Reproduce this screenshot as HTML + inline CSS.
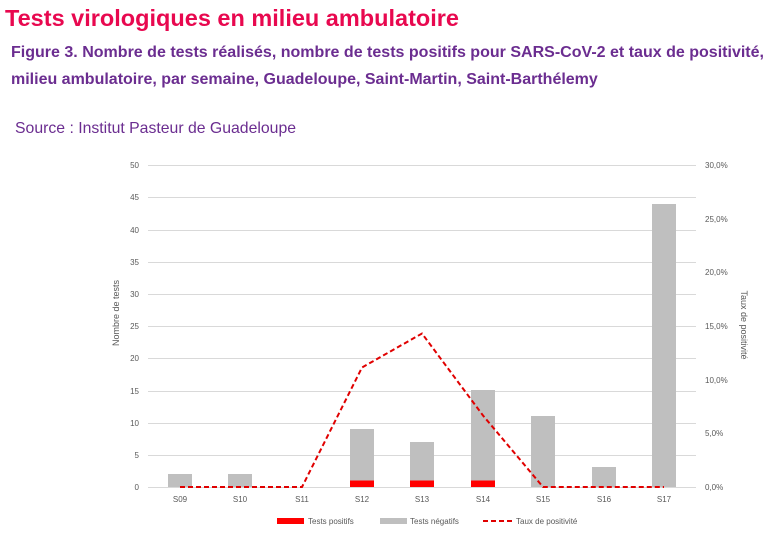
<!DOCTYPE html>
<html><head><meta charset="utf-8"><style>
body{margin:0;background:#fff;width:768px;height:541px;overflow:hidden;font-family:"Liberation Sans",sans-serif;}
</style></head><body>
<svg width="768" height="541" xmlns="http://www.w3.org/2000/svg" font-family="Liberation Sans, sans-serif">
<text x="5" y="26" font-size="23.5" font-weight="bold" fill="#e8084f">Tests virologiques en milieu ambulatoire</text>
<text x="11" y="57" font-size="16" font-weight="bold" fill="#6b2d90" textLength="753" lengthAdjust="spacingAndGlyphs">Figure 3. Nombre de tests réalisés, nombre de tests positifs pour SARS-CoV-2 et taux de positivité,</text>
<text x="11" y="84" font-size="16" font-weight="bold" fill="#6b2d90">milieu ambulatoire, par semaine, Guadeloupe, Saint-Martin, Saint-Barthélemy</text>
<text x="15" y="133" font-size="15.8" fill="#6b2d90">Source : Institut Pasteur de Guadeloupe</text>
<g stroke="#d9d9d9" stroke-width="1">
<line x1="148" x2="696" y1="165.5" y2="165.5"/><line x1="148" x2="696" y1="197.5" y2="197.5"/>
<line x1="148" x2="696" y1="230.5" y2="230.5"/><line x1="148" x2="696" y1="262.5" y2="262.5"/>
<line x1="148" x2="696" y1="294.5" y2="294.5"/><line x1="148" x2="696" y1="326.5" y2="326.5"/>
<line x1="148" x2="696" y1="358.5" y2="358.5"/><line x1="148" x2="696" y1="391.5" y2="391.5"/>
<line x1="148" x2="696" y1="423.5" y2="423.5"/><line x1="148" x2="696" y1="455.5" y2="455.5"/>
<line x1="148" x2="696" y1="487.5" y2="487.5"/>
</g>
<g font-size="8" fill="#595959" text-anchor="end">
<text x="139" y="168">50</text><text x="139" y="200">45</text><text x="139" y="233">40</text>
<text x="139" y="265">35</text><text x="139" y="297">30</text><text x="139" y="329">25</text>
<text x="139" y="361">20</text><text x="139" y="394">15</text><text x="139" y="426">10</text>
<text x="139" y="458">5</text><text x="139" y="490">0</text>
</g>
<g font-size="8" fill="#595959">
<text x="705" y="168">30,0%</text><text x="705" y="222">25,0%</text><text x="705" y="275">20,0%</text>
<text x="705" y="329">15,0%</text><text x="705" y="383">10,0%</text><text x="705" y="436">5,0%</text>
<text x="705" y="490">0,0%</text>
</g>
<text transform="translate(119,313) rotate(-90)" font-size="9" fill="#595959" text-anchor="middle">Nombre de tests</text>
<text transform="translate(741,325) rotate(90)" font-size="9" fill="#595959" text-anchor="middle">Taux de positivité</text>
<g fill="#bfbfbf">
<rect x="168" y="474" width="24" height="13"/>
<rect x="228" y="474" width="24" height="13"/>
<rect x="350" y="429" width="24" height="58"/>
<rect x="410" y="442" width="24" height="45"/>
<rect x="471" y="390" width="24" height="97"/>
<rect x="531" y="416" width="24" height="71"/>
<rect x="592" y="467" width="24" height="20"/>
<rect x="652" y="204" width="24" height="283"/>
</g>
<g fill="#ff0000">
<rect x="350" y="480.5" width="24" height="6.5"/>
<rect x="410" y="480.5" width="24" height="6.5"/>
<rect x="471" y="480.5" width="24" height="6.5"/>
</g>
<polyline points="180,487 240,487 302,487 362,367.5 422,333.5 483,415.5 543,487 604,487 664,487" fill="none" stroke="#e00000" stroke-width="2" stroke-dasharray="5,3"/>
<g font-size="8" fill="#595959" text-anchor="middle">
<text x="180" y="502">S09</text><text x="240" y="502">S10</text><text x="302" y="502">S11</text>
<text x="362" y="502">S12</text><text x="422" y="502">S13</text><text x="483" y="502">S14</text>
<text x="543" y="502">S15</text><text x="604" y="502">S16</text><text x="664" y="502">S17</text>
</g>
<rect x="277" y="518" width="27" height="6" fill="#ff0000"/>
<text x="308" y="524" font-size="8" fill="#595959">Tests positifs</text>
<rect x="380" y="518" width="27" height="6" fill="#bfbfbf"/>
<text x="410" y="524" font-size="8" fill="#595959">Tests négatifs</text>
<line x1="483" x2="514" y1="521" y2="521" stroke="#e00000" stroke-width="2" stroke-dasharray="5,3"/>
<text x="516" y="524" font-size="8" fill="#595959">Taux de positivité</text>
</svg>
</body></html>
